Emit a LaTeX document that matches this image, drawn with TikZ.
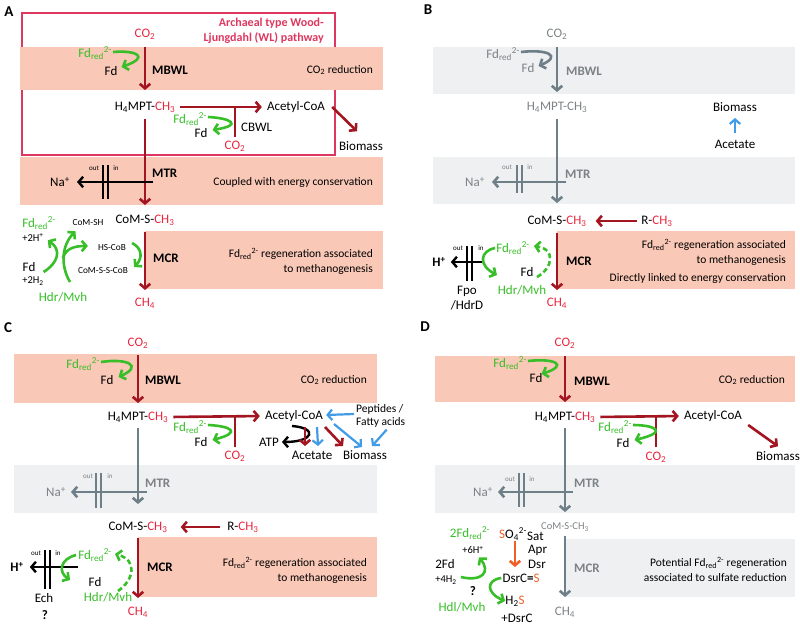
\documentclass[tikz,border=0pt]{standalone}
\usepackage{fontspec}
\setmainfont{Carlito}
\usepackage{tikz}
\usetikzlibrary{arrows.meta}

\definecolor{dred}{RGB}{163,22,33}
\definecolor{tred}{RGB}{232,38,62}
\definecolor{wlpink}{RGB}{222,55,95}
\definecolor{salm}{RGB}{250,200,183}
\definecolor{lgband}{RGB}{238,240,241}
\definecolor{mgray}{RGB}{110,127,135}
\definecolor{gtxt}{RGB}{125,130,133}
\definecolor{mgreen}{RGB}{55,190,40}
\definecolor{mblue}{RGB}{65,155,230}
\definecolor{orng}{RGB}{240,95,40}

\newcommand{\fdr}{Fd\textsubscript{red}\textsuperscript{2-}}
\newcommand{\cotwo}{CO\textsubscript{2}}
\newcommand{\mch}{\textcolor{tred}{CH\textsubscript{3}}}

\begin{document}
\begin{tikzpicture}
      [x=1pt, y=-1pt,
      lbl/.style={font=\fontsize{13}{15}\selectfont, inner sep=1pt},
      bld/.style={font=\fontsize{13}{15}\selectfont\bfseries, inner sep=1pt},
      sml/.style={font=\fontsize{10.5}{12}\selectfont, inner sep=1pt},
      tny/.style={font=\fontsize{9.3}{11}\selectfont, inner sep=1pt},
      mem/.style={font=\fontsize{7}{8}\selectfont, inner sep=0pt},
      enz/.style={font=\fontsize{13}{15}\selectfont\bfseries, inner sep=0pt, anchor=west},
      desc/.style={font=\fontsize{11.5}{14.5}\selectfont, inner sep=0pt, align=right, anchor=east},
      pep/.style={font=\fontsize{11.5}{13}\selectfont, inner sep=0pt, align=left, anchor=west},
      wltxt/.style={font=\fontsize{12}{15}\selectfont\bfseries, text=wlpink, inner sep=0pt, align=right, anchor=east},
      panel/.style={font=\fontsize{15}{15}\selectfont\bfseries, inner sep=0pt},
      chev/.style={-{Straight Barb[length=4.5pt,width=10.5pt]}},
      rarr/.style={draw=dred, line width=2.6pt, chev},
      rline/.style={draw=dred, line width=2.6pt},
      garr/.style={draw=mgreen, line width=2.6pt, chev},
      gdash/.style={garr, dash pattern=on 5pt off 3pt},
      grarr/.style={draw=mgray, line width=2.6pt, chev},
      barr/.style={draw=mblue, line width=2.2pt, chev},
      karr/.style={draw=black, line width=2.4pt, chev},
      bars/.style={draw=black, line width=1.8pt},
      gbars/.style={draw=mgray, line width=1.8pt},
      wlbox/.style={draw=wlpink, line width=1.8pt}]
      \useasboundingbox (0,0) rectangle (800,624);

      % A
      \node (lA) at (9,12) [panel] {A};
      \draw[wlbox] (22,13) rectangle (335,155);
      \fill[salm] (20,47) rectangle (383,90);
      \fill[salm] (20,157) rectangle (383,205);
      \fill[salm] (145,231) rectangle (383,289);
      \node (aWL) at (324,31) [wltxt] {Archaeal type Wood-\\Ljungdahl (WL) pathway};
      \node (aCO2) at (145,34) [lbl, tred] {\cotwo};
      \node (aFdr) at (113,53) [lbl, anchor=east, mgreen] {\fdr};
      \node (aFd) at (111,71) [lbl] {Fd};
      \node (aMB) at (152,70) [enz] {MBWL};
      \node (aCOr) at (373,70) [desc] {\cotwo{} reduction};
      \node (aH4) at (145,107) [lbl] {H\textsubscript{4}MPT-\mch};
      \node (aAc) at (296,107) [lbl] {Acetyl-CoA};
      \node (aCO2b) at (235,146) [lbl, tred] {\cotwo};
      \node (aFdr2) at (208,119) [lbl, anchor=east, mgreen] {\fdr};
      \node (aFd2) at (201,133) [lbl] {Fd};
      \node (aCB) at (240,127) [lbl, anchor=west] {CBWL};
      \node (aBio) at (361,146) [lbl] {Biomass};
      \node (aNa) at (60,182) [lbl] {Na\textsuperscript{+}};
      \node (aOut) at (94,168) [mem] {out};
      \node (aIn) at (116,168) [mem] {in};
      \node (aMTR) at (152,173) [enz] {MTR};
      \node (aCoup) at (373,182) [desc] {Coupled with energy conservation};
      \node (aCoM) at (145,220) [lbl] {CoM-S-\mch};
      \node (aMCR) at (153,258) [enz] {MCR};
      \node (aReg) at (373,261) [desc] {\fdr{}  regeneration associated\\to methanogenesis};
      \node (aCH4) at (145,303) [lbl, tred] {CH\textsubscript{4}};
      \node (aFdl) at (39,223) [lbl, mgreen] {\fdr};
      \node (aHp) at (33,237) [sml] {+2H\textsuperscript{+}};
      \node (aCoMSH) at (88,223) [tny] {CoM-SH};
      \node (aHSCoB) at (112,248) [tny] {HS-CoB};
      \node (aHet) at (103,271) [tny] {CoM-S-S-CoB};
      \node (aFdl2) at (29,267) [lbl] {Fd};
      \node (aHtwo) at (33,281) [sml] {+2H\textsubscript{2}};
      \node (aHdr) at (63,297) [lbl, mgreen] {Hdr/Mvh};
      \coordinate (aNaS) at (153,182);
      \coordinate (aJ) at (63,258);
      \draw[rarr] ([yshift=-13pt]aCO2.center) -- ([yshift=17pt]aH4.center);
      \draw[garr] ([yshift=1pt]aFdr.east) .. controls (137,50) and (150,57) .. ([xshift=3pt,yshift=4pt]aFd.east);
      \draw[rarr, shorten <=4pt, shorten >=4pt] (aH4.east) -- (aAc.west);
      \draw[rline] ([yshift=9pt]aCO2b.center) -- (aCO2b |- aAc);
      \draw[garr] ([yshift=2pt]aFdr2.east) .. controls (230,118) and (244,125) .. ([xshift=4pt,yshift=3pt]aFd2.east);
      \draw[rarr] ([xshift=6pt]aAc.east) -- ([xshift=-4pt,yshift=9pt]aBio.north);
      \draw[rarr] ([yshift=-12pt]aH4.center) -- ([yshift=15pt]aCoM.center);
      \draw[karr] (aNaS) -- ([xshift=6pt]aNa.east);
      \draw[bars] (103,165) -- (103,199);
      \draw[bars] (108,165) -- (108,199);
      \draw[rarr] ([yshift=-12pt]aCoM.center) -- ([yshift=13pt]aCH4.center);
      \draw[garr] ([xshift=7pt,yshift=-5pt]aFdl2.east) .. controls (58,263) and (62,250) .. ([xshift=3pt,yshift=2pt]aHp.south east);
      \draw[garr] ([xshift=7pt,yshift=9pt]aHdr.north) .. controls (60,265) and (62,245) .. ([xshift=4pt,yshift=-4pt]aCoMSH.south west);
      \draw[garr] (aJ) .. controls (66,248) and (75,246) .. ([xshift=-9pt,yshift=2pt]aHSCoB.west);
      \draw[garr] ([xshift=5pt,yshift=5pt]aHSCoB.east) .. controls (142,248) and (143,258) .. ([xshift=5pt,yshift=4pt]aHet.east);

      % B
      \node (lB) at (428,10) [panel] {B};
      \fill[lgband] (433,47) rectangle (795,94);
      \fill[lgband] (433,157) rectangle (795,204);
      \fill[salm] (557,231) rectangle (795,289);
      \node (bCO2) at (557,34) [lbl, gtxt] {\cotwo};
      \node (bFdr) at (521,54) [lbl, anchor=east, gtxt] {\fdr};
      \node (bFd) at (528,68) [lbl, gtxt] {Fd};
      \node (bMB) at (566,71) [enz, gtxt] {MBWL};
      \node (bH4) at (557,107) [lbl, gtxt] {H\textsubscript{4}MPT-CH\textsubscript{3}};
      \node (bBio) at (735,107) [lbl] {Biomass};
      \node (bAcet) at (735,144) [lbl] {Acetate};
      \node (bNa) at (475,182) [lbl, gtxt] {Na\textsuperscript{+}};
      \node (bOut) at (507,167) [mem, gtxt] {out};
      \node (bIn) at (530,167) [mem, gtxt] {in};
      \node (bMTR) at (565,174) [enz, gtxt] {MTR};
      \node (bCoM) at (557,221) [lbl] {CoM-S-\mch};
      \node (bR) at (657,221) [lbl] {R-\mch};
      \node (bMCR) at (566,261) [enz] {MCR};
      \node (bReg) at (786,252) [desc] {\fdr{}  regeneration associated\\to methanogenesis};
      \node (bLink) at (786,278) [desc] {Directly linked to energy conservation};
      \node (bCH4) at (557,303) [lbl, tred] {CH\textsubscript{4}};
      \node (bHp) at (439,262) [bld] {H\textsuperscript{+}};
      \node (bOut2) at (458,248) [mem] {out};
      \node (bIn2) at (481,248) [mem] {in};
      \node (bFdr2) at (513,248) [lbl, mgreen] {\fdr};
      \node (bFd2) at (527,272) [lbl] {Fd};
      \node (bHdr) at (522,290) [lbl, mgreen] {Hdr/Mvh};
      \node (bFpo) at (467,298) [lbl, align=center] {Fpo\\/HdrD};
      \coordinate (bNaS) at (566,182);
      \coordinate (bHS) at (483,262);
      \coordinate (bG1) at (497,275);
      \coordinate (bG2) at (537,277);
      \draw[grarr] ([yshift=2pt]bFdr.east) .. controls (548,49) and (562,56) .. ([xshift=3pt,yshift=2pt]bFd.east);
      \draw[grarr] ([yshift=-13pt]bCO2.center) -- ([yshift=15pt]bH4.center);
      \draw[barr] ([yshift=11pt]bAcet.center) -- ([yshift=-11pt]bBio.center);
      \draw[grarr] ([yshift=-12pt]bH4.center) -- ([yshift=18pt]bCoM.center);
      \draw[grarr] (bNaS) -- ([xshift=6pt]bNa.east);
      \draw[gbars] (517,165) -- (517,193);
      \draw[gbars] (522,165) -- (522,193);
      \draw[rarr] ([xshift=-3pt]bR.west) -- ([xshift=8pt]bCoM.east);
      \draw[rarr] ([yshift=-12pt]bCoM.center) -- ([yshift=13pt]bCH4.center);
      \draw[karr] (bHS) -- ([xshift=4pt]bHp.east);
      \draw[bars] (467,246) -- (467,281);
      \draw[bars] (472,246) -- (472,281);
      \draw[garr] (bFdr2.west) .. controls (480,251) and (478,265) .. (bG1);
      \draw[gdash] (bG2) .. controls (553,268) and (556,249) .. ([xshift=3pt,yshift=2pt]bFdr2.east);

      % C
      \node (lC) at (8,328) [panel] {C};
      \fill[salm] (14,354) rectangle (377,403);
      \fill[lgband] (14,465) rectangle (377,513);
      \fill[salm] (138,537) rectangle (377,597);
      \node (cCO2) at (138,343) [lbl, tred] {\cotwo};
      \node (cFdr) at (101,364) [lbl, anchor=east, mgreen] {\fdr};
      \node (cFd) at (107,380) [lbl] {Fd};
      \node (cMB) at (145,380) [enz] {MBWL};
      \node (cCOr) at (367,380) [desc] {\cotwo{} reduction};
      \node (cH4) at (138,417) [lbl] {H\textsubscript{4}MPT-\mch};
      \node (cAc) at (294,416) [lbl] {Acetyl-CoA};
      \node (cCO2b) at (235,456) [lbl, tred] {\cotwo};
      \node (cFdr2) at (208,427) [lbl, anchor=east, mgreen] {\fdr};
      \node (cFd2) at (201,442) [lbl] {Fd};
      \node (cATP) at (269,442) [lbl] {ATP};
      \node (cAcet) at (312,455) [lbl] {Acetate};
      \node (cBio) at (365,455) [lbl] {Biomass};
      \node (cPep) at (356,416) [pep] {Peptides /\\Fatty acids};
      \node (cNa) at (56,492) [lbl, gtxt] {Na\textsuperscript{+}};
      \node (cOut) at (88,476) [mem, gtxt] {out};
      \node (cIn) at (110,476) [mem, gtxt] {in};
      \node (cMTR) at (145,483) [enz, gtxt] {MTR};
      \node (cCoM) at (138,527) [lbl] {CoM-S-\mch};
      \node (cR) at (243,527) [lbl] {R-\mch};
      \node (cMCR) at (147,567) [enz] {MCR};
      \node (cReg) at (367,570) [desc] {\fdr{}  regeneration associated\\to methanogenesis};
      \node (cCH4) at (138,612) [lbl, tred] {CH\textsubscript{4}};
      \node (cHp) at (17,567) [bld] {H\textsuperscript{+}};
      \node (cOut2) at (36,553) [mem] {out};
      \node (cIn2) at (58,553) [mem] {in};
      \node (cFdr3) at (95,555) [lbl, mgreen] {\fdr};
      \node (cFd3) at (95,582) [lbl] {Fd};
      \node (cHdr) at (108,597) [lbl, mgreen] {Hdr/Mvh};
      \node (cEch) at (44,598) [lbl] {Ech};
      \node (cQ) at (45,615) [bld] {?};
      \coordinate (cNaS) at (147,492);
      \coordinate (cHS) at (78,567);
      \coordinate (cG1) at (70,580);
      \coordinate (cG2) at (118,591);
      \draw[garr] ([yshift=2pt]cFdr.east) .. controls (128,358) and (143,366) .. ([xshift=4pt,yshift=3pt]cFd.east);
      \draw[rarr] ([yshift=-12pt]cCO2.center) -- ([yshift=14pt]cH4.center);
      \draw[rarr, shorten <=4pt, shorten >=4pt] (cH4.east) -- (cAc.west);
      \draw[rline] ([yshift=9pt]cCO2b.center) -- (cCO2b |- cAc);
      \draw[garr] ([yshift=2pt]cFdr2.east) .. controls (230,426) and (243,432) .. ([xshift=4pt,yshift=2pt]cFd2.east);
      \draw[karr] ([xshift=-2pt,yshift=-10pt]cAc.center) .. controls (318,428) and (314,442) .. ([xshift=2pt]cATP.east);
      \draw[rarr] ([xshift=11pt,yshift=-11pt]cAc.center) -- ([xshift=-7pt,yshift=9pt]cAcet.center);
      \draw[barr] ([xshift=23pt,yshift=-11pt]cAc.center) -- ([xshift=6pt,yshift=9pt]cAcet.center);
      \draw[rarr] ([xshift=31pt,yshift=-11pt]cAc.center) -- ([xshift=-22pt,yshift=9pt]cBio.center);
      \draw[barr] ([xshift=40pt,yshift=-8pt]cAc.center) -- ([xshift=-3pt,yshift=8pt]cBio.center);
      \draw[barr] ([xshift=-2pt,yshift=2pt]cPep.west) -- ([xshift=2pt,yshift=1pt]cAc.east);
      \draw[barr] ([xshift=6pt,yshift=-2pt]cPep.south) -- ([xshift=7pt,yshift=9pt]cBio.center);
      \draw[grarr] ([yshift=-11pt]cH4.center) -- ([yshift=23pt]cCoM.center);
      \draw[grarr] (cNaS) -- ([xshift=4pt]cNa.east);
      \draw[gbars] (96,473) -- (96,508);
      \draw[gbars] (101,473) -- (101,508);
      \draw[rarr] ([xshift=-6pt]cR.west) -- ([xshift=12pt]cCoM.east);
      \draw[rarr] ([yshift=-11pt]cCoM.center) -- ([yshift=14pt]cCH4.center);
      \draw[karr] (cHS) -- ([xshift=5pt]cHp.east);
      \draw[bars] (45,550) -- (45,589);
      \draw[bars] (50,550) -- (50,589);
      \draw[garr] ([xshift=-1pt]cFdr3.west) .. controls (60,559) and (58,572) .. (cG1);
      \draw[gdash] (cG2) .. controls (134,580) and (138,560) .. ([xshift=2pt,yshift=1pt]cFdr3.east);

      % D
      \node (lD) at (425,327) [panel] {D};
      \fill[salm] (435,356) rectangle (795,402);
      \fill[lgband] (435,465) rectangle (795,513);
      \fill[lgband] (565,539) rectangle (795,597);
      \node (dCO2) at (565,343) [lbl, tred] {\cotwo};
      \node (dFdr) at (528,363) [lbl, anchor=east, mgreen] {\fdr};
      \node (dFd) at (536,378) [lbl] {Fd};
      \node (dMB) at (574,381) [enz] {MBWL};
      \node (dCOr) at (785,380) [desc] {\cotwo{} reduction};
      \node (dH4) at (565,417) [lbl] {H\textsubscript{4}MPT-\mch};
      \node (dAc) at (713,416) [lbl] {Acetyl-CoA};
      \node (dCO2b) at (656,457) [lbl, tred] {\cotwo};
      \node (dFdr2) at (633,427) [lbl, anchor=east, mgreen] {\fdr};
      \node (dFd2) at (623,443) [lbl] {Fd};
      \node (dBio) at (778,456) [lbl] {Biomass};
      \node (dNa) at (483,492) [lbl, gtxt] {Na\textsuperscript{+}};
      \node (dOut) at (510,479) [mem, gtxt] {out};
      \node (dIn) at (532,479) [mem, gtxt] {in};
      \node (dMTR) at (574,483) [enz, gtxt] {MTR};
      \node (dCoM) at (565,527) [sml, gtxt] {CoM-S-CH\textsubscript{3}};
      \node (dMCR) at (574,568) [enz, gtxt] {MCR};
      \node (dReg) at (787,569) [desc] {Potential \fdr{} regeneration\\associated to sulfate reduction};
      \node (dCH4) at (565,612) [lbl, gtxt] {CH\textsubscript{4}};
      \node (dSO4) at (513,534) [lbl] {\textcolor{orng}{S}O\textsubscript{4}\textsuperscript{2-}};
      \node (dSat) at (526,536) [lbl, anchor=west] {Sat};
      \node (dApr) at (527,550) [lbl, anchor=west] {Apr};
      \node (dDsr) at (527,564) [lbl, anchor=west] {Dsr};
      \node (dDsrC) at (521,578) [lbl] {DsrC\textbf{=}\textcolor{orng}{S}};
      \node (d2Fdr) at (470,533) [lbl, mgreen] {2\fdr};
      \node (d6H) at (473,550) [sml] {+6H\textsuperscript{+}};
      \node (d2Fd) at (445,564) [lbl] {2Fd};
      \node (d4H) at (446,580) [sml] {+4H\textsubscript{2}};
      \node (dQ) at (473,591) [bld] {?};
      \node (dHdl) at (462,607) [lbl, mgreen] {Hdl/Mvh};
      \node (dH2S) at (515,601) [lbl] {H\textsubscript{2}\textcolor{orng}{S}};
      \node (dDsrC2) at (517,618) [lbl] {+DsrC};
      \coordinate (dNaS) at (573,492);
      \draw[garr] ([yshift=2pt]dFdr.east) .. controls (555,358) and (569,365) .. ([xshift=-2pt,yshift=4pt]dFd.east);
      \draw[rarr] ([yshift=-13pt]dCO2.center) -- ([yshift=15pt]dH4.center);
      \draw[rarr, shorten <=4pt, shorten >=4pt] (dH4.east) -- (dAc.west);
      \draw[rline] ([yshift=10pt]dCO2b.center) -- (dCO2b |- dAc);
      \draw[garr] ([yshift=2pt]dFdr2.east) .. controls (655,425) and (669,432) .. ([xshift=4pt,yshift=3pt]dFd2.east);
      \draw[rarr] ([xshift=5pt,yshift=-9pt]dAc.east) -- ([yshift=4pt]dBio.north);
      \draw[grarr] ([yshift=-11pt]dH4.center) -- ([yshift=15pt]dCoM.center);
      \draw[grarr] (dNaS) -- ([xshift=4pt]dNa.east);
      \draw[gbars] (519,473) -- (519,507);
      \draw[gbars] (524,473) -- (524,507);
      \draw[grarr] ([yshift=-9pt]dCoM.center) -- ([yshift=15pt]dCH4.center);
      \draw[draw=orng, line width=2.6pt, chev] ([xshift=2pt,yshift=-7pt]dSO4.center) -- ([xshift=-6pt,yshift=11pt]dDsrC.center);
      \draw[garr] ([xshift=3pt,yshift=3pt]d4H.east) .. controls (482,582) and (491,572) .. ([xshift=6pt,yshift=-2pt]d6H.south);
      \draw[garr] (dDsrC.west) .. controls (486,580) and (486,593) .. ([xshift=1pt]dH2S.west);
\end{tikzpicture}
\end{document}
